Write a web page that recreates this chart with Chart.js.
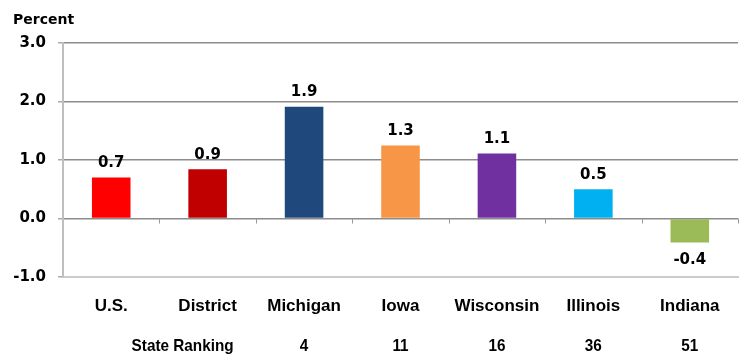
<!DOCTYPE html>
<html><head><meta charset="utf-8">
<script src="https://cdn.jsdelivr.net/npm/chart.js@4"></script>
<style>html,body{margin:0;padding:0;background:#fff}#wrap{width:756px;height:362px;position:relative}</style>
</head><body><div id="wrap"><canvas id="c" width="756" height="362"></canvas></div>
<script>
const categories = ["U.S.", "District", "Michigan", "Iowa", "Wisconsin", "Illinois", "Indiana"];
const values = [0.70, 0.84, 1.91, 1.25, 1.11, 0.50, -0.41];
const valueLabels = ["0.7", "0.9", "1.9", "1.3", "1.1", "0.5", "-0.4"];
const rankings = ["", "", "4", "11", "16", "36", "51"];
const rankTitle = "State Ranking";
const yTicks = [-1, 0, 1, 2, 3];
const barColors = ["#FF0000", "#C00000", "#1F497D", "#F79646", "#7030A0", "#00B0F0", "#9BBB59"];

const valFont = 'bold 15px "DejaVu Sans", Verdana, sans-serif';

function drawCondensed(ctx, text, x, y, align, sx) {
  ctx.save();
  ctx.translate(x, y);
  ctx.scale(sx, 1);
  ctx.textAlign = align;
  ctx.fillText(text, 0, 0);
  ctx.restore();
}

const overlay = {
  id: 'overlay',
  afterDatasetsDraw(chart) {
    const ctx = chart.ctx;
    const meta = chart.getDatasetMeta(0);
    const x = chart.scales.x, y = chart.scales.y;
    ctx.save();
    ctx.font = valFont;
    ctx.fillStyle = '#000';
    ctx.textAlign = 'center';
    meta.data.forEach((bar, i) => {
      const v = values[i];
      if (v >= 0) { ctx.textBaseline = 'bottom'; ctx.fillText(valueLabels[i], bar.x, bar.y - 7); }
      else { ctx.textBaseline = 'top'; ctx.fillText(valueLabels[i], bar.x, bar.y + 10); }
    });
    const y0 = y.getPixelForValue(0);
    const step = x.getPixelForValue(1) - x.getPixelForValue(0);
    ctx.strokeStyle = '#999';
    ctx.lineWidth = 1;
    for (let i = 0; i < categories.length; i++) {
      const bx = Math.round(x.getPixelForValue(i) + step / 2) + 0.5;
      ctx.beginPath(); ctx.moveTo(bx, y0); ctx.lineTo(bx, y0 + 5); ctx.stroke();
    }
    ctx.font = 'bold 17px "Liberation Sans", Arial, sans-serif';
    ctx.textBaseline = 'middle';
    drawCondensed(ctx, rankTitle, x.getPixelForValue(1) + 26, 346, 'right', 0.9);
    rankings.forEach((r, i) => { if (r) drawCondensed(ctx, r, x.getPixelForValue(i), 346, 'center', 0.9); });
    ctx.textAlign = 'left';
    ctx.textBaseline = 'middle';
    ctx.font = 'bold 14px "DejaVu Sans", Verdana, sans-serif';
    ctx.fillText('Percent', 13, 20);
    ctx.restore();
  }
};

new Chart(document.getElementById('c'), {
  type: 'bar',
  data: {
    labels: categories,
    datasets: [{ data: values, backgroundColor: barColors, borderWidth: 0, barPercentage: 0.4, categoryPercentage: 1.0 }]
  },
  options: {
    responsive: false,
    animation: false,
    events: [],
    layout: { padding: { left: 0, right: 18, top: 43, bottom: 0 } },
    plugins: { legend: { display: false }, tooltip: { enabled: false } },
    scales: {
      x: {
        grid: { display: false },
        border: { display: true, color: '#cccccc', width: 2 },
        ticks: { color: '#000', padding: 11, font: { family: '"Liberation Sans", Arial, sans-serif', weight: 'bold', size: 17 } },
        afterFit(s) { s.height = 85; }
      },
      y: {
        min: -1, max: 3,
        afterBuildTicks(s) { s.ticks = yTicks.map(v => ({ value: v })); },
        grid: {
          color: ctx => (ctx.tick && ctx.tick.value === -1) ? '#cccccc' : '#8c8c8c',
          lineWidth: 1.5,
          tickLength: 5,
          tickColor: '#aaaaaa'
        },
        border: { display: true, color: '#bfbfbf', width: 2 },
        ticks: {
          color: '#000', padding: 12,
          font: { family: '"DejaVu Sans", Verdana, sans-serif', weight: 'bold', size: 15 },
          callback: v => Number(v).toFixed(1)
        },
        afterFit(s) { s.width = 63; }
      }
    }
  },
  plugins: [overlay]
});
</script></body></html>
